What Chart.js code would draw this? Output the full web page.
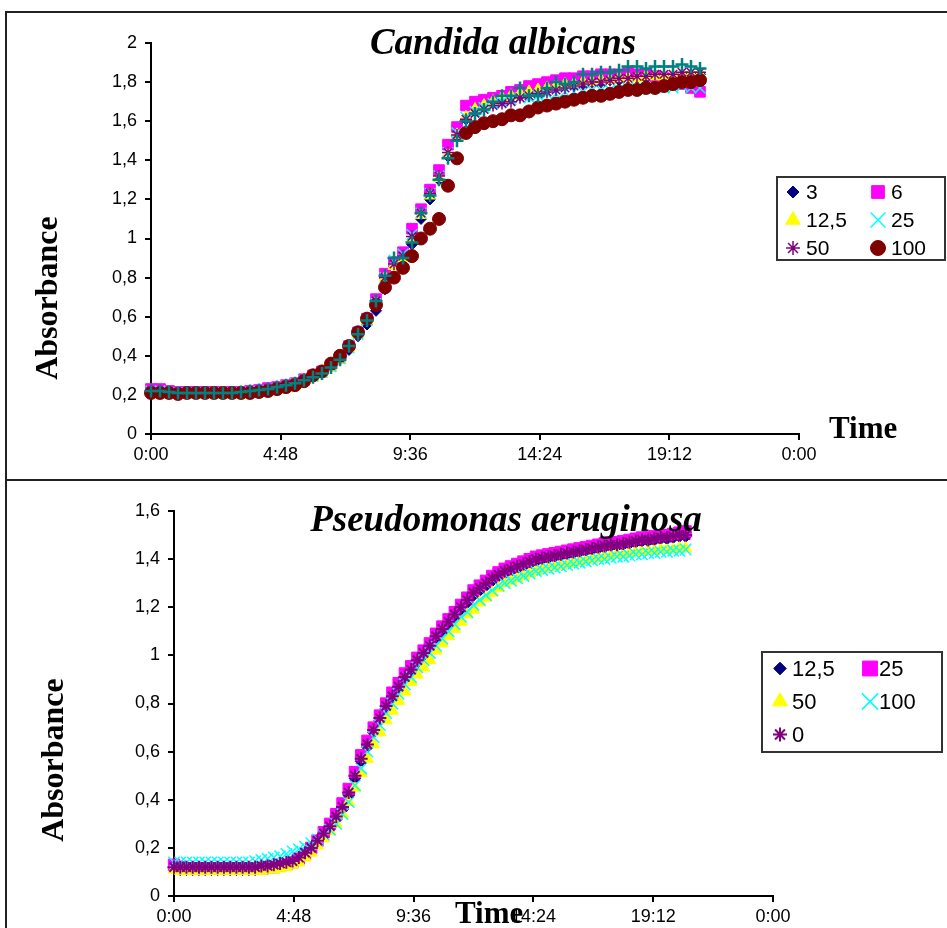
<!DOCTYPE html>
<html>
<head>
<meta charset="utf-8">
<title>Absorbance</title>
<script src="https://cdn.jsdelivr.net/npm/chart.js@4.4.1/dist/chart.umd.min.js"></script>
<style>
  html, body { margin: 0; padding: 0; background: #fff; }
  body { position: relative; width: 947px; height: 928px; overflow: hidden; }
  .frame { position: absolute; left: 5px; width: 1000px; height: 1000px;
           border-top: 2px solid #222; border-left: 2px solid #222; }
  canvas { position: absolute; left: 0; }
</style>
</head>
<body>
<div class="frame" style="top:11px"></div>
<div class="frame" style="top:479px"></div>
<canvas id="candidaChart" width="947" height="480" style="top:0"></canvas>
<canvas id="pseudoChart" width="947" height="448" style="top:480px"></canvas>
<script>
// Candida albicans, one reading every 20 min
var caStepMin = 20;
var caAbs3 = [
  0.22, 0.21, 0.21, 0.21, 0.21, 0.21, 0.21, 0.21, 0.21, 0.21,
  0.21, 0.215, 0.22, 0.225, 0.235, 0.245, 0.26, 0.275, 0.295, 0.315,
  0.345, 0.38, 0.43, 0.50, 0.56, 0.63, 0.74, 0.80, 0.86, 0.97,
  1.10, 1.20, 1.30, 1.42, 1.52, 1.61, 1.65, 1.67, 1.69, 1.71,
  1.72, 1.73, 1.74, 1.75, 1.76, 1.77, 1.78, 1.78, 1.79, 1.80,
  1.80, 1.81, 1.81, 1.82, 1.82, 1.82, 1.83, 1.83, 1.83, 1.83,
  1.84, 1.84];
var caAbs6 = [
  0.23, 0.23, 0.22, 0.215, 0.215, 0.215, 0.215, 0.215, 0.215, 0.215,
  0.215, 0.22, 0.225, 0.235, 0.24, 0.25, 0.26, 0.28, 0.30, 0.32,
  0.35, 0.39, 0.45, 0.52, 0.59, 0.69, 0.82, 0.88, 0.93, 1.05,
  1.15, 1.25, 1.35, 1.48, 1.57, 1.68, 1.70, 1.71, 1.72, 1.73,
  1.75, 1.76, 1.78, 1.79, 1.80, 1.81, 1.82, 1.82, 1.83, 1.83,
  1.84, 1.84, 1.84, 1.85, 1.84, 1.84, 1.83, 1.82, 1.80, 1.79,
  1.77, 1.75];
var caAbs12_5 = [
  0.21, 0.20, 0.20, 0.20, 0.20, 0.20, 0.20, 0.20, 0.20, 0.20,
  0.20, 0.205, 0.21, 0.215, 0.225, 0.235, 0.25, 0.27, 0.29, 0.31,
  0.34, 0.38, 0.44, 0.51, 0.58, 0.67, 0.80, 0.86, 0.90, 1.00,
  1.12, 1.22, 1.31, 1.43, 1.53, 1.62, 1.66, 1.68, 1.70, 1.72,
  1.73, 1.74, 1.75, 1.76, 1.77, 1.78, 1.79, 1.79, 1.80, 1.80,
  1.81, 1.81, 1.82, 1.82, 1.82, 1.83, 1.83, 1.83, 1.83, 1.84,
  1.84, 1.84];
var caAbs25 = [
  0.22, 0.22, 0.21, 0.21, 0.21, 0.21, 0.21, 0.21, 0.21, 0.21,
  0.21, 0.215, 0.22, 0.225, 0.235, 0.245, 0.26, 0.275, 0.295, 0.315,
  0.345, 0.385, 0.44, 0.51, 0.58, 0.67, 0.80, 0.89, 0.92, 1.02,
  1.13, 1.23, 1.32, 1.44, 1.54, 1.62, 1.65, 1.67, 1.69, 1.70,
  1.71, 1.72, 1.72, 1.73, 1.74, 1.74, 1.75, 1.75, 1.75, 1.76,
  1.76, 1.76, 1.76, 1.77, 1.77, 1.77, 1.77, 1.77, 1.77, 1.78,
  1.77, 1.77];
var caAbs50 = [
  0.22, 0.21, 0.21, 0.21, 0.21, 0.21, 0.21, 0.21, 0.21, 0.21,
  0.21, 0.215, 0.22, 0.23, 0.24, 0.25, 0.26, 0.28, 0.30, 0.32,
  0.35, 0.39, 0.45, 0.52, 0.59, 0.68, 0.80, 0.87, 0.91, 1.01,
  1.13, 1.23, 1.32, 1.44, 1.53, 1.61, 1.64, 1.66, 1.68, 1.69,
  1.70, 1.72, 1.73, 1.74, 1.75, 1.76, 1.77, 1.78, 1.79, 1.80,
  1.80, 1.81, 1.82, 1.82, 1.83, 1.83, 1.84, 1.84, 1.84, 1.85,
  1.85, 1.85];
var caAbs100 = [
  0.21, 0.21, 0.21, 0.205, 0.21, 0.21, 0.21, 0.21, 0.21, 0.21,
  0.21, 0.21, 0.215, 0.22, 0.23, 0.24, 0.25, 0.27, 0.30, 0.32,
  0.36, 0.40, 0.45, 0.52, 0.59, 0.66, 0.75, 0.80, 0.85, 0.91,
  1.00, 1.05, 1.10, 1.27, 1.41, 1.54, 1.57, 1.59, 1.60, 1.61,
  1.63, 1.63, 1.65, 1.67, 1.68, 1.69, 1.70, 1.71, 1.72, 1.73,
  1.73, 1.74, 1.75, 1.76, 1.76, 1.77, 1.77, 1.78, 1.79, 1.80,
  1.80, 1.81];
// extra series plotted with "+" that has no legend entry
var caAbsPlus = [
  0.22, 0.22, 0.215, 0.21, 0.21, 0.21, 0.21, 0.21, 0.21, 0.21,
  0.215, 0.22, 0.225, 0.23, 0.24, 0.25, 0.26, 0.275, 0.29, 0.31,
  0.34, 0.38, 0.45, 0.51, 0.58, 0.68, 0.81, 0.90, 0.90, 0.98,
  1.13, 1.22, 1.30, 1.41, 1.50, 1.60, 1.64, 1.66, 1.70, 1.73,
  1.73, 1.77, 1.73, 1.73, 1.77, 1.80, 1.79, 1.80, 1.84, 1.84,
  1.85, 1.85, 1.86, 1.88, 1.88, 1.87, 1.88, 1.88, 1.88, 1.89,
  1.88, 1.87];

// Pseudomonas aeruginosa, one reading every 15 min
var paStepMin = 15;
var paAbs12_5 = [
  0.12, 0.11, 0.11, 0.11, 0.11, 0.11, 0.11, 0.11, 0.11, 0.11,
  0.11, 0.11, 0.11, 0.11, 0.115, 0.115, 0.12, 0.125, 0.13, 0.14,
  0.155, 0.175, 0.195, 0.225, 0.255, 0.285, 0.32, 0.36, 0.42, 0.49,
  0.56, 0.62, 0.68, 0.73, 0.78, 0.82, 0.86, 0.90, 0.93, 0.97,
  1.00, 1.03, 1.07, 1.10, 1.13, 1.16, 1.19, 1.22, 1.25, 1.27,
  1.29, 1.31, 1.33, 1.34, 1.35, 1.36, 1.37, 1.38, 1.39, 1.40,
  1.405, 1.41, 1.415, 1.42, 1.425, 1.43, 1.435, 1.44, 1.445, 1.45,
  1.455, 1.455, 1.46, 1.465, 1.47, 1.475, 1.475, 1.48, 1.485, 1.485,
  1.49, 1.495, 1.495];
var paAbs25 = [
  0.13, 0.12, 0.115, 0.115, 0.115, 0.115, 0.115, 0.115, 0.115, 0.115,
  0.115, 0.115, 0.115, 0.115, 0.115, 0.12, 0.12, 0.125, 0.13, 0.14,
  0.155, 0.175, 0.20, 0.23, 0.265, 0.30, 0.34, 0.385, 0.445, 0.515,
  0.585, 0.645, 0.70, 0.75, 0.80, 0.845, 0.885, 0.925, 0.955, 0.99,
  1.02, 1.05, 1.09, 1.12, 1.15, 1.18, 1.21, 1.24, 1.27, 1.29,
  1.31, 1.33, 1.345, 1.36, 1.37, 1.38, 1.39, 1.40, 1.41, 1.415,
  1.42, 1.425, 1.43, 1.435, 1.44, 1.445, 1.45, 1.455, 1.46, 1.465,
  1.47, 1.47, 1.475, 1.48, 1.485, 1.49, 1.49, 1.495, 1.50, 1.50,
  1.505, 1.51, 1.515];
var paAbs50 = [
  0.11, 0.105, 0.105, 0.105, 0.105, 0.105, 0.105, 0.105, 0.105, 0.105,
  0.105, 0.105, 0.105, 0.105, 0.105, 0.11, 0.11, 0.115, 0.12, 0.13,
  0.14, 0.16, 0.18, 0.21, 0.24, 0.27, 0.30, 0.34, 0.39, 0.45,
  0.51, 0.57, 0.63, 0.68, 0.73, 0.77, 0.81, 0.85, 0.89, 0.92,
  0.95, 0.98, 1.02, 1.05, 1.08, 1.11, 1.14, 1.17, 1.19, 1.22,
  1.24, 1.26, 1.28, 1.30, 1.31, 1.32, 1.33, 1.34, 1.35, 1.36,
  1.365, 1.37, 1.375, 1.38, 1.385, 1.39, 1.395, 1.40, 1.405, 1.41,
  1.415, 1.42, 1.42, 1.425, 1.43, 1.43, 1.435, 1.435, 1.44, 1.44,
  1.44, 1.445, 1.445];
var paAbs100 = [
  0.14, 0.14, 0.14, 0.14, 0.14, 0.14, 0.14, 0.14, 0.14, 0.14,
  0.14, 0.14, 0.14, 0.145, 0.15, 0.155, 0.16, 0.165, 0.175, 0.185,
  0.195, 0.205, 0.22, 0.235, 0.255, 0.275, 0.30, 0.34, 0.39, 0.46,
  0.53, 0.60, 0.66, 0.71, 0.76, 0.80, 0.84, 0.88, 0.91, 0.95,
  0.98, 1.01, 1.04, 1.07, 1.10, 1.13, 1.16, 1.18, 1.21, 1.23,
  1.25, 1.27, 1.29, 1.30, 1.31, 1.32, 1.33, 1.34, 1.35, 1.355,
  1.36, 1.365, 1.37, 1.375, 1.38, 1.385, 1.39, 1.395, 1.40, 1.40,
  1.405, 1.41, 1.41, 1.415, 1.42, 1.42, 1.425, 1.425, 1.43, 1.43,
  1.435, 1.435, 1.44];
var paAbs0 = [
  0.12, 0.12, 0.12, 0.12, 0.12, 0.12, 0.12, 0.12, 0.12, 0.12,
  0.12, 0.12, 0.12, 0.12, 0.125, 0.125, 0.13, 0.135, 0.14, 0.145,
  0.16, 0.18, 0.20, 0.23, 0.26, 0.29, 0.33, 0.37, 0.43, 0.50,
  0.57, 0.63, 0.69, 0.74, 0.79, 0.83, 0.87, 0.91, 0.94, 0.98,
  1.01, 1.04, 1.08, 1.11, 1.14, 1.17, 1.20, 1.23, 1.26, 1.28,
  1.30, 1.32, 1.335, 1.35, 1.36, 1.37, 1.38, 1.39, 1.40, 1.405,
  1.41, 1.415, 1.42, 1.425, 1.43, 1.435, 1.44, 1.445, 1.45, 1.455,
  1.46, 1.46, 1.465, 1.47, 1.475, 1.48, 1.48, 1.485, 1.49, 1.49,
  1.495, 1.50, 1.50];

// x axis is in minutes; ticks every 4:48 up to 24 h
var timeTicks = [0, 288, 576, 864, 1152, 1440];

var tickFont = { family: '"Liberation Sans", Arial, sans-serif', size: 18 };

function fmtTime(min) {
  var m = Math.round(min) % 1440;
  var mm = m % 60;
  return Math.floor(m / 60) + ':' + (mm < 10 ? '0' : '') + mm;
}

function fmtComma(v) {
  return String(Math.round(v * 10) / 10).replace('.', ',');
}

function serie(label, values, stepMin, st) {
  return {
    label: label,
    data: values.map(function (v, i) { return { x: i * stepMin, y: v }; }),
    showLine: false,
    pointStyle: st.shape,
    pointRadius: st.r,
    backgroundColor: st.color,
    borderColor: st.color,
    borderWidth: st.bw,
    order: st.order,
    clip: false,
    legendRadius: st.lr   // size of the marker in the legend box (none = not listed)
  };
}

// chart title and axis titles
var panelText = {
  id: 'panelText',
  afterDraw: function (chart, args, o) {
    var ctx = chart.ctx;
    ctx.save();
    ctx.fillStyle = '#000';
    ctx.textBaseline = 'alphabetic';
    ctx.font = 'italic bold 37px "Liberation Serif", "Times New Roman", serif';
    ctx.textAlign = 'center';
    ctx.fillText(o.title, o.titleX, o.titleY);
    ctx.font = 'bold 31px "Liberation Serif", "Times New Roman", serif';
    ctx.textAlign = 'left';
    ctx.fillText(o.xTitle, o.xTitleX, o.xTitleY);
    ctx.translate(o.yTitleX, o.yTitleY);
    ctx.rotate(-Math.PI / 2);
    ctx.font = 'bold 32px "Liberation Serif", "Times New Roman", serif';
    ctx.textAlign = 'center';
    ctx.fillText(o.yTitle, 0, 0);
    ctx.restore();
  }
};

// two-column legend in a framed box
var boxLegend = {
  id: 'boxLegend',
  afterDraw: function (chart, args, o) {
    var ctx = chart.ctx;
    var items = chart.data.datasets.filter(function (ds) { return ds.legendRadius; });
    ctx.save();
    ctx.fillStyle = '#fff';
    ctx.fillRect(o.x, o.y, o.w, o.h);
    ctx.lineWidth = 2;
    ctx.strokeStyle = '#333';
    ctx.strokeRect(o.x, o.y, o.w, o.h);
    ctx.font = o.font;
    ctx.textBaseline = 'middle';
    ctx.textAlign = 'left';
    items.forEach(function (ds, i) {
      var col = i % 2, row = Math.floor(i / 2);
      var cy = o.y + o.firstRow + row * o.rowHeight;
      ctx.fillStyle = ds.backgroundColor;
      ctx.strokeStyle = ds.borderColor;
      ctx.lineWidth = ds.borderWidth;
      Chart.helpers.drawPoint(ctx, {
        pointStyle: ds.pointStyle, radius: ds.legendRadius,
        borderWidth: ds.borderWidth, rotation: 0
      }, o.x + o.markerX[col], cy);
      ctx.fillStyle = '#000';
      ctx.fillText(ds.label, o.x + o.textX[col], cy + 1);
    });
    ctx.restore();
  }
};

function buildChart(canvasId, datasets, cfg) {
  return new Chart(document.getElementById(canvasId), {
    type: 'scatter',
    data: { datasets: datasets },
    plugins: [panelText, boxLegend],
    options: {
      responsive: false,
      animation: false,
      events: [],
      layout: { padding: cfg.padding },
      plugins: {
        legend: { display: false },
        tooltip: { enabled: false },
        panelText: cfg.text,
        boxLegend: cfg.legend
      },
      scales: {
        x: {
          type: 'linear',
          min: 0,
          max: 1440,
          afterBuildTicks: function (s) {
            s.ticks = timeTicks.map(function (v) { return { value: v }; });
          },
          afterFit: function (s) { s.height = cfg.xHeight; },
          ticks: { callback: fmtTime, color: '#000', font: tickFont, padding: 4, maxRotation: 0, autoSkip: false },
          grid: { drawOnChartArea: false, tickLength: 6, color: '#000', lineWidth: 2 },
          border: { color: '#000', width: 2 }
        },
        y: {
          min: 0,
          max: cfg.yMax,
          afterFit: function (s) { s.width = cfg.yWidth; },
          ticks: { stepSize: 0.2, callback: fmtComma, color: '#000', font: tickFont, padding: 8 },
          grid: { drawOnChartArea: false, tickLength: 6, color: '#000', lineWidth: 2 },
          border: { color: '#000', width: 2 }
        }
      }
    }
  });
}

window.onload = function () {

  var candida = [
    serie('3', caAbs3, caStepMin, { shape: 'rectRot', r: 5.5, color: '#000080', bw: 1, order: 6, lr: 6 }),
    serie('6', caAbs6, caStepMin, { shape: 'rect', r: 7.5, color: '#FF00FF', bw: 1, order: 5, lr: 9 }),
    serie('12,5', caAbs12_5, caStepMin, { shape: 'triangle', r: 7, color: '#FFFF00', bw: 1, order: 4, lr: 8.5 }),
    serie('25', caAbs25, caStepMin, { shape: 'crossRot', r: 7.5, color: '#00FFFF', bw: 1.5, order: 3, lr: 10.5 }),
    serie('50', caAbs50, caStepMin, { shape: 'star', r: 6, color: '#800080', bw: 1.5, order: 2, lr: 7 }),
    serie('100', caAbs100, caStepMin, { shape: 'circle', r: 6.5, color: '#800000', bw: 1, order: 1, lr: 7.5 }),
    serie('', caAbsPlus, caStepMin, { shape: 'cross', r: 6.5, color: '#008080', bw: 2.5, order: 0 })
  ];

  buildChart('candidaChart', candida, {
    padding: { left: 0, right: 148, top: 43, bottom: 0 },
    yWidth: 151,
    xHeight: 46,
    yMax: 2,
    text: {
      title: 'Candida albicans', titleX: 503, titleY: 54,
      xTitle: 'Time', xTitleX: 829, xTitleY: 438,
      yTitle: 'Absorbance', yTitleX: 57, yTitleY: 298
    },
    legend: {
      x: 777, y: 177, w: 168, h: 83, firstRow: 15, rowHeight: 28,
      markerX: [16, 101], textX: [29, 114],
      font: '21px "Liberation Sans", Arial, sans-serif'
    }
  });

  var pseudomonas = [
    serie('12,5', paAbs12_5, paStepMin, { shape: 'rectRot', r: 6, color: '#000080', bw: 1, order: 5, lr: 6.3 }),
    serie('25', paAbs25, paStepMin, { shape: 'rect', r: 8, color: '#FF00FF', bw: 1, order: 4, lr: 10.5 }),
    serie('50', paAbs50, paStepMin, { shape: 'triangle', r: 7, color: '#FFFF00', bw: 1, order: 3, lr: 8.7 }),
    serie('100', paAbs100, paStepMin, { shape: 'crossRot', r: 8, color: '#00FFFF', bw: 1.5, order: 2, lr: 11.5 }),
    serie('0', paAbs0, paStepMin, { shape: 'star', r: 6.5, color: '#800080', bw: 2, order: 1, lr: 7 })
  ];

  buildChart('pseudoChart', pseudomonas, {
    padding: { left: 0, right: 174, top: 31, bottom: 0 },
    yWidth: 174,
    xHeight: 32,
    yMax: 1.6,
    text: {
      title: 'Pseudomonas aeruginosa', titleX: 506, titleY: 51,
      xTitle: 'Time', xTitleX: 455, xTitleY: 443,
      yTitle: 'Absorbance', yTitleX: 63, yTitleY: 280
    },
    legend: {
      x: 762, y: 172, w: 180, h: 100, firstRow: 16.5, rowHeight: 33,
      markerX: [18, 108], textX: [30, 117],
      font: '22px "Liberation Sans", Arial, sans-serif'
    }
  });
};
</script>
</body>
</html>
